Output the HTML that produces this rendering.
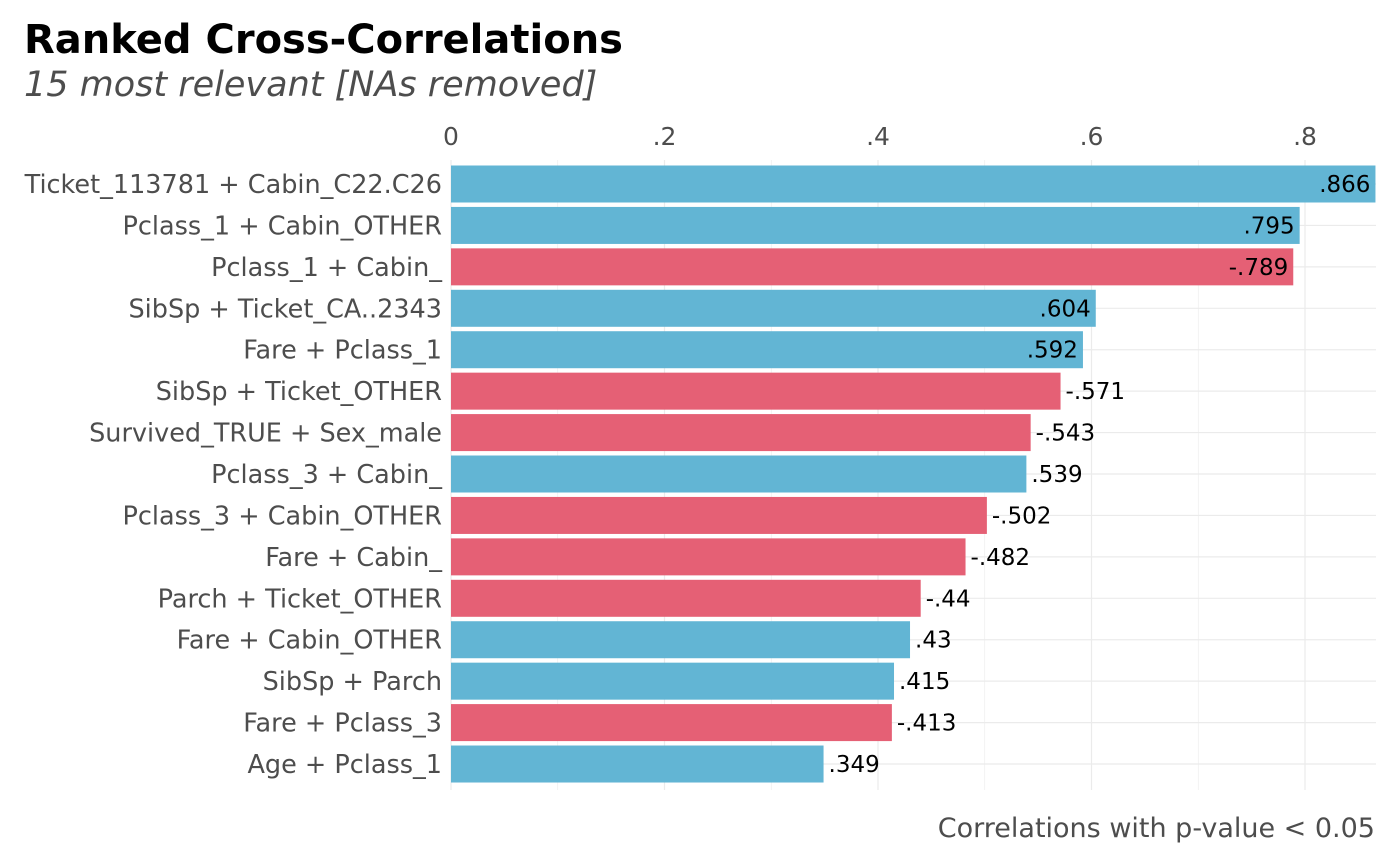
<!DOCTYPE html>
<html><head><meta charset="utf-8"><style>
body{margin:0;background:#fff;}
svg{display:block;font-family:"DejaVu Sans","Liberation Sans",sans-serif;}
</style></head><body>
<svg id="chart" width="1400" height="866">
<text x="24" y="53" font-size="40" font-weight="bold" fill="#000">Ranked Cross-Correlations</text>
<text x="24" y="96" font-size="35" font-style="italic" fill="#4d4d4d">15 most relevant [NAs removed]</text>
<text x="1375" y="837" font-size="27" fill="#4d4d4d" text-anchor="end">Correlations with p-value &lt; 0.05</text>
<g id="grid"></g><g id="bars"></g><g id="labels"></g>
</svg>
<script>
const categories=["Ticket_113781 + Cabin_C22.C26","Pclass_1 + Cabin_OTHER","Pclass_1 + Cabin_","SibSp + Ticket_CA..2343","Fare + Pclass_1","SibSp + Ticket_OTHER","Survived_TRUE + Sex_male","Pclass_3 + Cabin_","Pclass_3 + Cabin_OTHER","Fare + Cabin_","Parch + Ticket_OTHER","Fare + Cabin_OTHER","SibSp + Parch","Fare + Pclass_3","Age + Pclass_1"];
const values=[0.866,0.795,-0.789,0.604,0.592,-0.571,-0.543,0.539,-0.502,-0.482,-0.44,0.43,0.415,-0.413,0.349];
const valueLabels=[".866",".795","-.789",".604",".592","-.571","-.543",".539","-.502","-.482","-.44",".43",".415","-.413",".349"];
const xTicks=[0,0.2,0.4,0.6,0.8];
const xTickLabels=["0",".2",".4",".6",".8"];
const NS="http://www.w3.org/2000/svg";
const x=v=>451+v*1067.5;
const y=i=>184+i*41.43;
const bh=37;
function mk(tag,attrs,parent){const e=document.createElementNS(NS,tag);for(const k in attrs)e.setAttribute(k,attrs[k]);parent.appendChild(e);return e;}
const grid=document.getElementById('grid'),bars=document.getElementById('bars'),labels=document.getElementById('labels');
for(let k=0;k<=8;k++){
 const t=k/10;
 const gl=mk('line',{x1:x(t),x2:x(t),y1:160,y2:790,stroke:'#ebebeb','stroke-width':k%2==0?1.2:0.6},grid);
 
 
}
xTicks.forEach((t,i)=>{
 const tx=mk('text',{x:x(t),y:145,'font-size':25,fill:'#4d4d4d','text-anchor':'middle'},labels);
 tx.textContent=xTickLabels[i];
 
 
});
categories.forEach((c,i)=>{
 const hl=mk('line',{x1:451,x2:1376,y1:y(i),y2:y(i),stroke:'#ebebeb','stroke-width':1.2},grid);
 
 
 const v=Math.abs(values[i]);
 const r=mk('rect',{x:x(0),y:y(i)-bh/2,width:x(v)-x(0),height:bh,fill:values[i]>0?'#62b5d4':'#e56075'},bars);
 
 
 const cl=mk('text',{x:442,y:y(i)+9,'font-size':25.5,fill:'#4d4d4d','text-anchor':'end'},labels);
 cl.textContent=c;
 
 
 const inside=v>0.58;
 const vl=mk('text',{x:inside?x(v)-5:x(v)+5,y:y(i)+8,'font-size':23,fill:'#000','text-anchor':inside?'end':'start'},labels);
 vl.textContent=valueLabels[i];
 
 
});
</script>
</body></html>
